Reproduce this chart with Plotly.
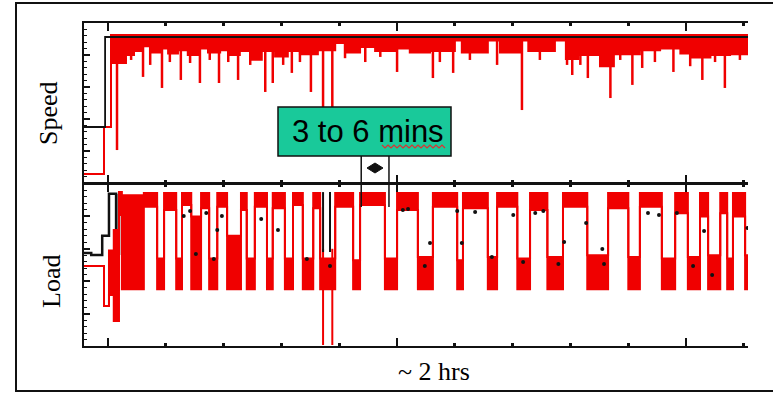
import plotly.graph_objects as go

# ---------------- data ----------------
# time axis in minutes (major ticks 0, 50, 100; minor every 10)
# Speed panel: step-wise band (upper / lower envelope), values in % of axis
speed_x = [-4.15, -0.69, 0.52, 3.11, 4.5, 6.06, 7.27, 9.0, 10.4, 12.1, 13.8, 15.6, 17.3,
           19.4, 21.1, 22.8, 24.6, 26.6, 28.9, 31.1, 33.2, 36.3, 39.3, 41.0, 43.6, 46.2,
           49.7, 52.2, 55.7, 60.0, 61.2, 65.7, 67.8, 71.3, 72.7, 77.3, 79.2, 81.3, 85.1,
           87.5, 92.0, 95.5, 99.0, 100.7, 104.2, 107.6, 110.7]
speed_hi = [5.6, 35, 92.5, 92.5, 92.5, 92.5, 92.5, 92.5, 92.5, 92.5, 92.5, 92.5, 92.5,
            92.5, 92.5, 92.5, 92.5, 92.5, 92.5, 92.5, 92.5, 92.5, 92.5, 92.5, 92.5, 92.5,
            92.5, 92.5, 92.5, 92.5, 92.5, 92.5, 92.5, 92.5, 92.5, 92.5, 92.5, 92.5, 92.5,
            92.5, 92.5, 92.5, 92.5, 92.5, 92.5, 92.5, 92.5]
speed_lo = [5.6, 35, 75.0, 80.0, 82.5, 85.5, 81.5, 84.0, 81.0, 83.0, 80.0, 84.0, 81.5,
            83.0, 80.0, 82.5, 77.0, 82.5, 79.0, 82.5, 80.5, 83.0, 87.5, 81.5, 85.0, 82.5,
            84.0, 81.5, 82.5, 89.0, 81.5, 89.0, 81.5, 89.0, 82.5, 89.0, 77.5, 80.0, 73.0,
            80.5, 83.0, 84.0, 81.0, 78.5, 80.0, 80.5, 80.5]
# deep downward spikes of the speed trace
speed_spike_x = [1.56, 6.06, 9.34, 12.6, 15.9, 19.2, 22.5, 27.2, 28.5, 31.8, 35.1, 37.2,
                 38.8, 44.5, 50.0, 56.2, 59.7, 67.3, 71.6, 79.4, 80.3, 83.0, 86.9, 90.7,
                 92.4, 97.8, 102.8, 106.7]
speed_spike_lo = [20.6, 66.3, 59.4, 64.4, 62.5, 62.5, 64.4, 56.9, 62.5, 68.8, 56.9, 20.6,
                  20.6, 75.6, 69.4, 65.6, 68.8, 73.8, 45.6, 73.8, 67.5, 65.6, 53.1, 61.3,
                  71.9, 69.4, 64.4, 59.4]
# shallow comb-like dips of the speed trace
speed_dip_x = [2.8, 4.0, 7.3, 10.7, 14.2, 17.6, 20.8, 24.6, 30.3, 33.2, 41.0, 47.1, 57.4,
               62.6, 74.7, 81.7, 88.6, 94.6, 100.7, 105.0, 109.3]
speed_dip_lo = [75.0, 76.9, 73.8, 75.6, 75.0, 76.9, 75.6, 73.8, 73.8, 75.6, 78.0, 78.8, 75.6,
                76.9, 76.9, 73.8, 76.9, 75.6, 73.0, 75.6, 76.9]
# speed set-point (black)
speed_ref_x = [-4.15, -0.5, 110.7]
speed_ref_y = [35, 91.25, 91.25]

# Load panel: step-wise band
load_x = [-4.15, -0.69, 0.17, 1.0, 1.9, 2.4, 6.2, 8.5, 9.7, 11.8, 12.8, 14.4, 16.1, 17.5,
          18.9, 20.6, 23.0, 24.0, 25.4, 27.5, 28.5, 30.6, 32.0, 33.7, 35.5, 36.7, 39.3,
          42.4, 43.6, 47.9, 50.0, 53.6, 56.2, 60.4, 61.4, 65.7, 67.3, 70.8, 73.0, 76.0,
          78.7, 82.9, 86.5, 90.0, 92.0, 95.8, 98.1, 100.3, 102.4, 103.8, 105.9, 107.1,
          108.1, 110.2, 110.7]
load_hi = [49.4, 24.7, 59.0, 71.6, 95.0, 93.0, 94.5, 54.0, 94.5, 54.0, 94.5, 80.0, 94.5,
           54.0, 94.5, 68.0, 94.5, 54.0, 94.5, 54.0, 94.5, 54.0, 94.5, 54.0, 94.5, 54.0,
           94.5, 53.0, 94.5, 54.0, 94.5, 55.0, 94.5, 53.0, 94.5, 55.0, 94.5, 54.0, 94.5,
           55.0, 94.5, 56.0, 94.5, 55.0, 94.5, 54.0, 94.5, 55.0, 94.5, 56.0, 94.5, 54.0,
           94.5, 56.0, 56.0]
load_lo = [49.4, 24.7, 31.5, 15.4, 80.9, 35.0, 86.0, 35.0, 84.0, 35.0, 87.0, 35.0, 85.0,
           35.0, 86.0, 35.0, 84.0, 35.0, 86.0, 35.0, 85.0, 35.0, 87.0, 35.0, 85.0, 35.0,
           86.0, 35.0, 87.0, 35.0, 84.0, 35.0, 86.0, 35.0, 85.0, 35.0, 86.0, 35.0, 84.0,
           35.0, 86.0, 35.0, 85.0, 35.0, 86.0, 35.0, 82.0, 35.0, 80.0, 35.0, 82.0, 35.0,
           80.0, 35.0, 35.0]
load_spike_x = [37.2, 38.8]
load_spike_lo = [0.6, 0.6]
# load set-point (black step line at start-up, then hidden under the red)
load_ref_x = [-4.15, -2.9, -1.0, 0.17, 1.4, 1.9, 2.4]
load_ref_y = [57.4, 56.2, 68.0, 94.0, 57.0, 93.0, 93.0]
# short black set-point drops visible near the 40-min mark
load_ref_drop_x = [37.2, 38.4]
load_ref_drop_lo = [58.0, 58.0]
# black set-point dots visible outside the red
dot_x = [13.1, 14.2, 15.2, 17.0, 18.3, 18.9, 19.7, 26.5, 29.4, 34.4, 38.4, 51.0, 51.9, 54.8,
         55.7, 60.4, 61.2, 63.5, 66.4, 70.1, 71.8, 73.9, 75.3, 77.9, 78.9, 82.7, 85.5, 85.8,
         93.4, 95.3, 98.4, 101.2, 103.1, 104.5, 110.6]
dot_y = [80.2, 83.3, 56.8, 82.1, 53.7, 71.6, 80.2, 78.4, 71.6, 53.7, 49.4, 84.0, 84.6, 49.4,
         63.6, 83.3, 63.6, 82.7, 54.9, 80.9, 51.9, 82.1, 83.3, 50.6, 64.2, 75.9, 59.9, 50.6,
         82.1, 80.9, 82.1, 49.4, 71.0, 43.8, 72.8]

# callout: interval marked between two instants (minutes)
bracket_x = [43.8, 48.6]
callout_text = "3 to 6 mins"
ylabel_speed = "Speed"
ylabel_load = "Load"
xlabel = "~ 2 hrs"

# ---------------- styling / layout ----------------
RED = "#f00000"
BLK = "#111111"
W, H = 773, 393
ML, MR, MT, MB = 84, 25, 23, 47
PW, PH = W - ML - MR, H - MT - MB


def px(xp):
    return (xp - ML) / PW


def py(yp):
    return (H - MB - yp) / PH


def spikes(xs, lows, top):
    X, Y = [], []
    for a, b in zip(xs, lows):
        X += [a, a, None]
        Y += [top, b, None]
    return X, Y


fig = go.Figure()

# speed band
fig.add_trace(go.Scatter(x=speed_x, y=speed_lo, mode="lines", line=dict(color=RED, width=2, shape="hv"),
                         xaxis="x", yaxis="y", hoverinfo="skip"))
fig.add_trace(go.Scatter(x=speed_x, y=speed_hi, mode="lines", line=dict(color=RED, width=2, shape="hv"),
                         fill="tonexty", fillcolor=RED, xaxis="x", yaxis="y", hoverinfo="skip"))
sx, sy = spikes(speed_spike_x, speed_spike_lo, 92.5)
fig.add_trace(go.Scatter(x=sx, y=sy, mode="lines", line=dict(color=RED, width=2.5),
                         xaxis="x", yaxis="y", hoverinfo="skip"))
dx, dy = spikes(speed_dip_x, speed_dip_lo, 90)
fig.add_trace(go.Scatter(x=dx, y=dy, mode="lines", line=dict(color=RED, width=2.5),
                         xaxis="x", yaxis="y", hoverinfo="skip"))
fig.add_trace(go.Scatter(x=speed_ref_x, y=speed_ref_y, mode="lines",
                         line=dict(color=BLK, width=1.8, shape="hv"), xaxis="x", yaxis="y"))

# load
fig.add_trace(go.Scatter(x=load_ref_x, y=load_ref_y, mode="lines",
                         line=dict(color=BLK, width=2.5, shape="hv"), xaxis="x2", yaxis="y2"))
fig.add_trace(go.Scatter(x=load_x, y=load_lo, mode="lines", line=dict(color=RED, width=2, shape="hv"),
                         xaxis="x2", yaxis="y2", hoverinfo="skip"))
fig.add_trace(go.Scatter(x=load_x, y=load_hi, mode="lines", line=dict(color=RED, width=2, shape="hv"),
                         fill="tonexty", fillcolor=RED, xaxis="x2", yaxis="y2", hoverinfo="skip"))
lx, ly = spikes(load_spike_x, load_spike_lo, 60)
fig.add_trace(go.Scatter(x=lx, y=ly, mode="lines", line=dict(color=RED, width=2),
                         xaxis="x2", yaxis="y2", hoverinfo="skip"))
bx, by = spikes(load_ref_drop_x, load_ref_drop_lo, 95)
fig.add_trace(go.Scatter(x=bx, y=by, mode="lines", line=dict(color=BLK, width=2),
                         xaxis="x2", yaxis="y2", hoverinfo="skip"))
fig.add_trace(go.Scatter(x=dot_x, y=dot_y, mode="markers", marker=dict(color=BLK, size=4),
                         xaxis="x2", yaxis="y2"))

xcommon = dict(range=[-4.15, 110.7], showline=True, linecolor=BLK, linewidth=2, mirror="ticks",
               ticks="inside", tick0=0, dtick=50, ticklen=8, tickwidth=2, tickcolor=BLK,
               minor=dict(ticks="inside", dtick=10, ticklen=3, tickwidth=3, tickcolor=BLK),
               showticklabels=False, showgrid=False, zeroline=False)
ycommon = dict(range=[0, 100], showline=True, linecolor=BLK, linewidth=2, mirror=False,
               ticks="inside", tick0=0, dtick=20, ticklen=6, tickwidth=1.5, tickcolor=BLK,
               minor=dict(ticks="inside", dtick=4, ticklen=3, tickwidth=1.2, tickcolor=BLK),
               showticklabels=False, showgrid=False, zeroline=False)

split_top = py(183)
split_bot = py(184)

shapes = [
    # outer frame (right side falls outside the picture)
    dict(type="rect", xref="paper", yref="paper", x0=px(16), x1=px(782), y0=py(391), y1=py(3),
         line=dict(color=BLK, width=2), layer="above"),
    # bracket lines
    dict(type="line", xref="x", yref="paper", x0=bracket_x[0], x1=bracket_x[0], y0=py(207), y1=py(156),
         line=dict(color=BLK, width=1.5)),
    dict(type="line", xref="x", yref="paper", x0=bracket_x[1], x1=bracket_x[1], y0=py(207), y1=py(156),
         line=dict(color=BLK, width=1.5)),
    # callout box
    dict(type="rect", xref="paper", yref="paper", x0=px(278), x1=px(451), y0=py(156), y1=py(107),
         fillcolor="#19c99a", line=dict(color=BLK, width=1.5), layer="above"),
]

# double-arrow blob between bracket lines
x0p, x1p = px(367), px(383)
cxp = (x0p + x1p) / 2
shapes.append(dict(type="path", xref="paper", yref="paper",
                   path=f"M {x0p} {py(168)} L {cxp} {py(163)} L {x1p} {py(168)} L {cxp} {py(173)} Z",
                   fillcolor=BLK, line=dict(color=BLK, width=1)))

# spell-check squiggle under "mins"
pts = []
xp_ = 382
k = 0
while xp_ <= 447:
    pts.append((px(xp_), py(145 if k % 2 == 0 else 148)))
    xp_ += 3
    k += 1
path = "M " + " L ".join(f"{a} {b}" for a, b in pts)
shapes.append(dict(type="path", xref="paper", yref="paper", path=path,
                   line=dict(color="#e03030", width=1.2), layer="above"))

annotations = [
    dict(text=ylabel_speed, xref="paper", yref="paper", x=px(48), y=py(113), showarrow=False,
         textangle=-90, font=dict(family="Liberation Serif", size=26, color="black"),
         xanchor="center", yanchor="middle"),
    dict(text=ylabel_load, xref="paper", yref="paper", x=px(51), y=py(282), showarrow=False,
         textangle=-90, font=dict(family="Liberation Serif", size=26, color="black"),
         xanchor="center", yanchor="middle"),
    dict(text=xlabel, xref="paper", yref="paper", x=px(434), y=py(371), showarrow=False,
         font=dict(family="Liberation Serif", size=26, color="black"),
         xanchor="center", yanchor="middle"),
    dict(text=callout_text, xref="paper", yref="paper", x=px(368), y=py(131), showarrow=False,
         font=dict(family="Liberation Sans", size=31, color="black"),
         xanchor="center", yanchor="middle"),
]

fig.update_layout(
    width=W, height=H, margin=dict(l=ML, r=MR, t=MT, b=MB),
    paper_bgcolor="white", plot_bgcolor="white", showlegend=False,
    xaxis=dict(anchor="y", domain=[0, 1], **xcommon),
    yaxis=dict(anchor="x", domain=[split_top, 1], **ycommon),
    xaxis2=dict(anchor="y2", domain=[0, 1], matches="x", **xcommon),
    yaxis2=dict(anchor="x2", domain=[0, split_bot], **ycommon),
    shapes=shapes, annotations=annotations,
)

fig.write_html("out.html")
